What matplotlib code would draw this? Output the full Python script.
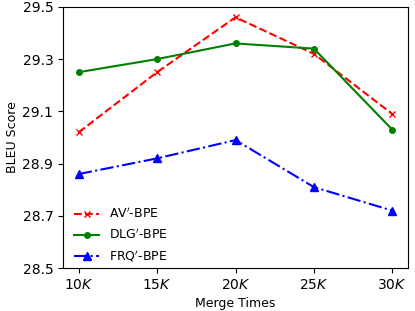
import matplotlib
matplotlib.use("Agg")
import matplotlib.pyplot as plt

merge_times = [10, 15, 20, 25, 30]
tick_labels = ["10$K$", "15$K$", "20$K$", "25$K$", "30$K$"]
av_bpe = [29.02, 29.25, 29.46, 29.32, 29.09]
dlg_bpe = [29.25, 29.30, 29.36, 29.34, 29.03]
frq_bpe = [28.86, 28.92, 28.99, 28.81, 28.72]

plt.rcParams["font.size"] = 9
plt.rcParams["xtick.labelsize"] = 10
plt.rcParams["ytick.labelsize"] = 10

fig, ax = plt.subplots(figsize=(4.15, 3.11), dpi=100)
ax.plot(merge_times, av_bpe, "r--", marker="x", markersize=5, label="AV$'$-BPE")
ax.plot(merge_times, dlg_bpe, "g-", marker="o", markersize=4, label="DLG$'$-BPE")
ax.plot(merge_times, frq_bpe, "b-.", marker="^", markersize=6, label="FRQ$'$-BPE")

ax.set_xticks(merge_times)
ax.set_xticklabels(tick_labels)
ax.set_ylim(28.5, 29.5)
ax.set_yticks([28.5, 28.7, 28.9, 29.1, 29.3, 29.5])
ax.set_xlabel("Merge Times")
ax.set_ylabel("BLEU Score", labelpad=2.5)
ax.legend(loc="lower left", bbox_to_anchor=(0, -0.027), frameon=False, fontsize=9)

fig.subplots_adjust(left=0.152, right=0.983, top=0.978, bottom=0.138)
fig.savefig("out.png", dpi=100)
